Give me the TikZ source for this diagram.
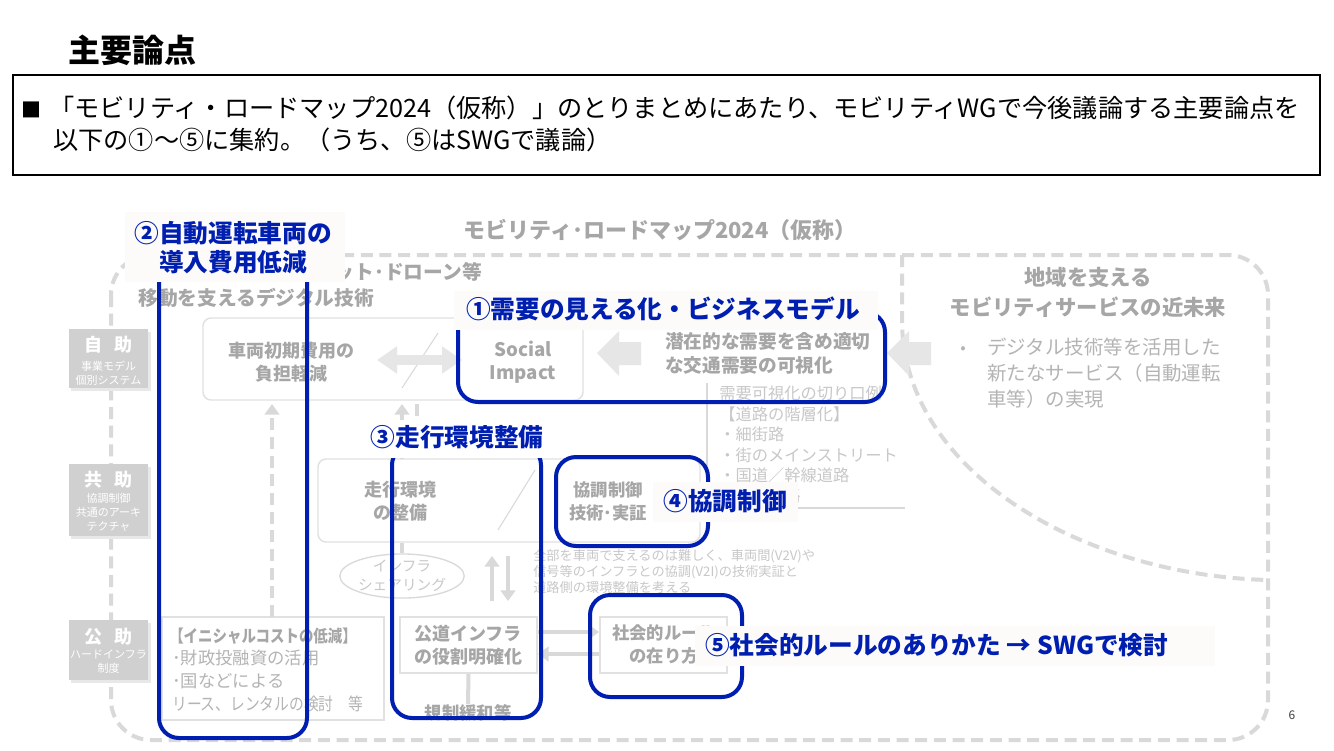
\documentclass[tikz,border=0pt]{standalone}
\usepackage{fontspec}
\setmainfont{Noto Sans CJK JP}
\newfontfamily\narrowjp{Noto Sans CJK JP}[FakeStretch=0.85]
\usetikzlibrary{arrows.meta,shapes.geometric}
\definecolor{bl}{RGB}{0,30,175}
\definecolor{gtxt}{RGB}{166,166,166}
\definecolor{ltxt}{RGB}{180,180,180}
\definecolor{vtxt}{RGB}{200,200,200}
\definecolor{gline}{RGB}{217,217,217}
\definecolor{gbox}{RGB}{225,225,225}
\definecolor{gfill}{RGB}{230,230,230}
\definecolor{lbl}{RGB}{252,251,249}
\definecolor{sidebox}{RGB}{208,208,208}
\tikzset{
  dashline/.style={draw=gline, line width=3pt, dash pattern=on 9pt off 5pt},
  gbx/.style={draw=gbox, line width=1.1pt, rounded corners=6pt, inner sep=0},
  rbx/.style={draw=gbox, line width=1.5pt, inner sep=0},
  gtext/.style={text=gtxt, font=\bfseries\fontsize{13.5}{17.25}\selectfont, align=center, inner sep=0},
  bluebox/.style={draw=bl, line width=3pt, rounded corners=15pt},
  lbox/.style={fill=lbl, inner sep=0},
  btxt/.style={text=bl, font=\bfseries\fontsize{18.5}{21.75}\selectfont, inner sep=0, align=center},
  garrow/.style={draw=gline, line width=3pt, -{Triangle[width=11pt,length=8pt]}},
  dasharrow/.style={draw=gline, line width=3pt, dash pattern=on 9pt off 5pt, -{Triangle[width=11pt,length=8pt]}},
  sidebx/.style={fill=sidebox, inner sep=0, minimum width=59.25pt},
  sidetitle/.style={text=white, font=\bfseries\fontsize{13.5}{16}\selectfont, inner sep=0},
  sidesub/.style={text=white, font=\fontsize{8.25}{10.5}\selectfont, inner sep=0, align=center},
}
\begin{document}
\begin{tikzpicture}[x=0.75pt,y=-0.75pt]
\useasboundingbox (0,0) rectangle (1334,750);
\fill[white] (0,0) rectangle (1334,750);

% ---- title and header box
\node[anchor=west, inner sep=0, font=\bfseries\fontsize{24}{28}\selectfont] (title) at (68,50) {主要論点};
\node[draw=black, line width=0.8pt, minimum width=980.25pt, minimum height=75pt, inner sep=0] (hdr) at (666.5,125) {};
\node[anchor=west, inner sep=0, font=\fontsize{18.9}{22}\selectfont] (l1) at (21,108) {{\fontsize{15}{15}\selectfont ■}\hspace{6pt}「モビリティ・ロードマップ2024（仮称）」のとりまとめにあたり、モビリティWGで今後議論する主要論点を};
\node[anchor=west, inner sep=0, font=\fontsize{18.9}{22}\selectfont] (l2) at (53,140) {以下の①～⑤に集約。（うち、⑤はSWGで議論）};

% ---- map title
\node[text=gtxt, inner sep=0, font=\bfseries\fontsize{16.5}{20}\selectfont] (maptitle) at (660,230) {モビリティ･ロードマップ2024（仮称）};

% ---- dashed regions
\draw[dashline, rounded corners=30pt] (111,255) rectangle (1268,740);
\draw[dashline] (902,255) -- (902,320) .. controls (902,470) and (1080,575) .. (1268,580);

% ---- left header
\node[anchor=east, text=gtxt, inner sep=0, font=\bfseries\fontsize{14.8}{18}\selectfont] (hd1) at (482,272) {ット･ドローン等};
\node[anchor=west, text=gtxt, inner sep=0, font=\bfseries\fontsize{14.8}{18}\selectfont] (hd2) at (138,298) {移動を支えるデジタル技術};

% ---- side boxes
\fill[gray!18] (71,332) rectangle (151,391);
\node[sidebx, minimum height=44.25pt] (jijo) at (108.5,358.5) {};
\node[sidetitle] (jijoT) at (108.5,345) {自\hspace{0.7em}助};
\node[sidesub] (jijoS) at (108.5,373) {事業モデル\\個別システム};
\fill[gray!18] (71,467) rectangle (151,539);
\node[sidebx, minimum height=54pt] (kyojo) at (108.5,500) {};
\node[sidetitle] (kyojoT) at (108.5,480) {共\hspace{0.7em}助};
\node[sidesub] (kyojoS) at (108.5,512) {協調制御\\共通のアーキ\\テクチャ};
\fill[gray!18] (71,623) rectangle (151,683);
\node[sidebx, minimum height=45pt] (kojo) at (108.5,650) {};
\node[sidetitle] (kojoT) at (108.5,637) {公\hspace{0.7em}助};
\node[sidesub] (kojoS) at (108.5,661.5) {ハードインフラ\\制度};

% ---- top row
\node[gbx, minimum width=285pt, minimum height=61.5pt] (big1) at (393,359) {};
\node[gtext] (cost) at (291,362) {車両初期費用の\\負担軽減};
\node[gtext, font=\bfseries\fontsize{14}{17.25}\selectfont] (social) at (523,362) {Social\\Impact};
\draw[gline, line width=0.8pt] (402,388) -- (438,333);
\coordinate (dal) at (377,360); \coordinate (dar) at (462,360);
\draw[gfill, line width=7.5pt, {Triangle[width=19.5pt,length=15pt]}-{Triangle[width=19.5pt,length=15pt]}] (dal) -- (dar);
\fill[gfill] (597,353) -- (619,331) -- (619,342) -- (641,342) -- (641,365) -- (619,365) -- (619,376) -- cycle;
\node[anchor=west, text=gtxt, inner sep=0, align=left, font=\bfseries\fontsize{14}{18}\selectfont] (demand) at (665,353) {潜在的な需要を含め適切\\な交通需要の可視化};
\fill[gfill] (887,353) -- (909,331) -- (909,342) -- (931,342) -- (931,365) -- (909,365) -- (909,376) -- cycle;

% ---- right region text
\node[text=gtxt, inner sep=0, align=center, font=\bfseries\fontsize{16}{22.5}\selectfont] (region) at (1088,292) {地域を支える\\モビリティサービスの近未来};
\node[text=ltxt, inner sep=0, font=\fontsize{12}{14}\selectfont] (bul) at (963,350) {•};
\node[anchor=north west, text=ltxt, inner sep=0, align=left, font=\fontsize{14.6}{19.5}\selectfont] (future) at (987,338) {デジタル技術等を活用した\\新たなサービス（自動運転\\車等）の実現};

% ---- demand visualisation note
\draw[gline, line width=1pt] (707,383) -- (707,508) -- (905,508);
\node[anchor=north west, text=vtxt, inner sep=0, align=left, font=\fontsize{12.2}{15.3}\selectfont] (note) at (719,386) {需要可視化の切り口例\\【道路の階層化】\\・細街路\\・街のメインストリート\\・国道／幹線道路\\\phantom{・高速道}路};

% ---- middle row
\node[gbx, minimum width=286.5pt, minimum height=62.25pt] (drive) at (509,500.5) {};
\node[gtext] (driveT) at (400,501) {走行環境\\の整備};
\node[gtext, font=\bfseries\fontsize{13}{17.25}\selectfont] (coop) at (608,501) {協調制御\\技術･実証};
\draw[gline, line width=0.8pt] (498,530) -- (535,470);
\coordinate (up1b) at (402,459); \coordinate (up1t) at (402,404);
\coordinate (up2b) at (417,459); \coordinate (up2t) at (417,404);
\draw[dasharrow] (up1b) -- (up1t);
\draw[gline, line width=2.5pt, dash pattern=on 9pt off 5pt] (up2t) -- (up2b);
\node[draw=gline, line width=1pt, ellipse, minimum width=87pt, minimum height=33pt, inner sep=0, text=vtxt, align=center, font=\fontsize{11}{14}\selectfont] (infra) at (402,576) {インフラ\\シェアリング};
\draw[gline, line width=3pt] (drive.south -| infra.north) -- (infra.north);
\coordinate (ud1b) at (492,601); \coordinate (ud1t) at (492,556);
\coordinate (ud2t) at (508,556); \coordinate (ud2b) at (508,601);
\draw[garrow] (ud1b) -- (ud1t);
\draw[garrow] (ud2t) -- (ud2b);
\node[anchor=north west, text=vtxt, inner sep=0, align=left, font=\fontsize{9.9}{12.2}\selectfont] (para) at (533,549) {全部を車両で支えるのは難しく、車両間(V2V)や\\信号等のインフラとの協調(V2I)の技術実証と\\道路側の環境整備を考える};

% ---- bottom row
\node[rbx, minimum width=166.5pt, minimum height=77.25pt] (ini) at (273,668.5) {};
\node[anchor=west, text=gtxt, inner sep=0, font=\narrowjp\bfseries\fontsize{12.75}{15}\selectfont] (iniT) at (169,636) {【イニシャルコストの低減】};
\node[anchor=north west, text=ltxt, inner sep=0, align=left, font=\fontsize{13}{17.25}\selectfont] (iniB) at (172,650) {･財政投融資の活用\\･国などによる\\{\narrowjp リース、レンタルの検討　等}};
\coordinate (dab) at (272,617); \coordinate (dat) at (272,404);
\draw[dasharrow] (dab) -- (dat);
\node[rbx, minimum width=102.75pt, minimum height=42pt] (road) at (468.5,645) {};
\node[gtext] (roadT) at (468,645.5) {公道インフラ\\の役割明確化};
\node[text=gtxt, inner sep=0, font=\bfseries\fontsize{13}{16}\selectfont] (dereg) at (468,713) {規制緩和等};
\draw[gline, line width=3pt] (road.south) -- (dereg.north);
\node[rbx, minimum width=95.25pt, minimum height=42pt] (rule) at (663.5,645) {};
\node[gtext, font=\bfseries\fontsize{13}{17.25}\selectfont] (ruleT) at (664,644.5) {社会的ルール\\の在り方};
\draw[garrow] (road.east |- 0,632) -- (rule.west |- 0,632);
\draw[garrow] (rule.west |- 0,654) -- (road.east |- 0,654);

% ---- blue outlines
\draw[bluebox] (159,250) rectangle (307,738);
\draw[bluebox] (458,312) rectangle (885,402);
\draw[bluebox] (392,445) rectangle (541,718);
\draw[bluebox] (556,457) rectangle (708,546);
\draw[bluebox] (590,595) rectangle (742,697);

% ---- labels
\node[lbox, minimum width=165pt, minimum height=52.5pt] (lab2) at (235,247) {};
\node[btxt] (lab2T) at (233,247.5) {②自動運転車両の\\導入費用低減};
\node[lbox, minimum width=318pt, minimum height=29.25pt] (lab1) at (666,310.5) {};
\node[btxt] (lab1T) at (663,309) {①需要の見える化・ビジネスモデル};
\node[lbox, fill=white, minimum width=142.5pt, minimum height=28.5pt] (lab3) at (457,439) {};
\node[btxt] (lab3T) at (457,437) {③走行環境整備};
\node[lbox, minimum width=108.75pt, minimum height=30pt] (lab4) at (725.5,502) {};
\node[btxt] (lab4T) at (725,501) {④協調制御};
\node[lbox, minimum width=390pt, minimum height=30pt] (lab5) at (955,646) {};
\node[btxt, anchor=west] (lab5T) at (705,645) {⑤社会的ルールのありかた → SWGで検討};

% ---- page number
\node[text=black!75, inner sep=0, font=\fontsize{9}{10}\selectfont] (pg) at (1292,715) {6};
\end{tikzpicture}
\end{document}
